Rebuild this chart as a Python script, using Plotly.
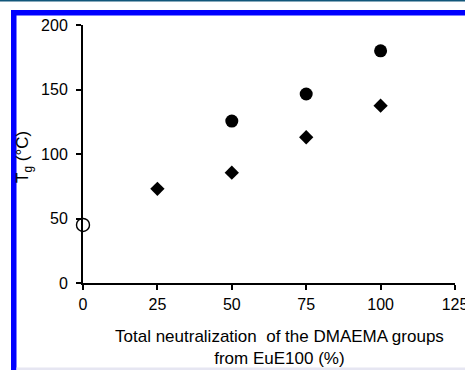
import plotly.graph_objects as go

# Glass transition temperature vs. degree of neutralization
x_pure = [0]
tg_pure = [45]

x_diamond = [25, 50, 75, 100]
tg_diamond = [73, 85.5, 113, 137.5]

x_circle = [50, 75, 100]
tg_circle = [125.5, 146.5, 180]

x_ticks = [0, 25, 50, 75, 100, 125]
y_ticks = [0, 50, 100, 150, 200]

W, H = 465, 370
L, R, T, B = 83, 10, 25, 87
PW, PH = W - L - R, H - T - B


def px(x):
    return (x - L) / PW


def py(y):
    return (H - B - y) / PH


FAMILY = "Arial, Liberation Sans, sans-serif"
tick_font = dict(family=FAMILY, size=16, color="black")
title_font = dict(family=FAMILY, size=17, color="black")

fig = go.Figure()
fig.add_trace(go.Scatter(
    x=x_diamond, y=tg_diamond, mode="markers",
    marker=dict(symbol="diamond", size=11, color="black", line=dict(width=0)),
    cliponaxis=False, showlegend=False))
fig.add_trace(go.Scatter(
    x=x_circle, y=tg_circle, mode="markers",
    marker=dict(symbol="circle", size=13, color="black", line=dict(width=0)),
    cliponaxis=False, showlegend=False))
fig.add_trace(go.Scatter(
    x=x_pure, y=tg_pure, mode="markers",
    marker=dict(symbol="circle", size=13, color="white", line=dict(width=1.4, color="black")),
    cliponaxis=False, showlegend=False))

shapes = [
    # thin dark rule across the very top
    dict(type="rect", xref="paper", yref="paper", x0=px(0), x1=px(W), y0=py(0), y1=py(1.5),
         fillcolor="#12577a", line=dict(width=0), layer="below"),
    # blue frame, top edge
    dict(type="rect", xref="paper", yref="paper", x0=px(11), x1=px(W), y0=py(10), y1=py(15.5),
         fillcolor="#0000ff", line=dict(width=0), layer="below"),
    # blue frame, left edge
    dict(type="rect", xref="paper", yref="paper", x0=px(11), x1=px(16.5), y0=py(10), y1=py(H),
         fillcolor="#0000ff", line=dict(width=0), layer="below"),
    # faint rule along the bottom
    dict(type="rect", xref="paper", yref="paper", x0=px(16.5), x1=px(W), y0=py(367.5), y1=py(H),
         fillcolor="#e6e6f2", line=dict(width=0), layer="below"),
]

annotations = [
    dict(text="Total neutralization  of the DMAEMA groups<br>from EuE100 (%)",
         xref="paper", yref="paper", x=px(279), y=py(347),
         xanchor="center", yanchor="middle", showarrow=False, font=title_font),
    dict(text="T<sub>g</sub> (°C)", textangle=-90,
         xref="paper", yref="paper", x=px(24), y=py(157),
         xanchor="center", yanchor="middle", showarrow=False, font=title_font),
]

fig.update_layout(
    width=W, height=H,
    margin=dict(l=L, r=R, t=T, b=B, pad=0, autoexpand=False),
    paper_bgcolor="white", plot_bgcolor="white",
    font=tick_font,
    shapes=shapes,
    annotations=annotations,
    xaxis=dict(
        range=[0, 125], tickvals=x_ticks, ticktext=[str(v) for v in x_ticks],
        showgrid=False, zeroline=False, showline=True, linecolor="black", linewidth=2,
        ticks="outside", ticklen=5, tickwidth=1.5, tickcolor="black",
        tickfont=tick_font, ticklabelstandoff=1, ticklabeloverflow="allow",
        automargin=False,
    ),
    yaxis=dict(
        range=[0, 200], tickvals=y_ticks,
        showgrid=False, zeroline=False, showline=True, linecolor="black", linewidth=2,
        ticks="outside", ticklen=5, tickwidth=1.5, tickcolor="black",
        tickfont=tick_font, ticklabelstandoff=5, ticklabeloverflow="allow",
        automargin=False,
    ),
)

fig.write_html("out.html")
